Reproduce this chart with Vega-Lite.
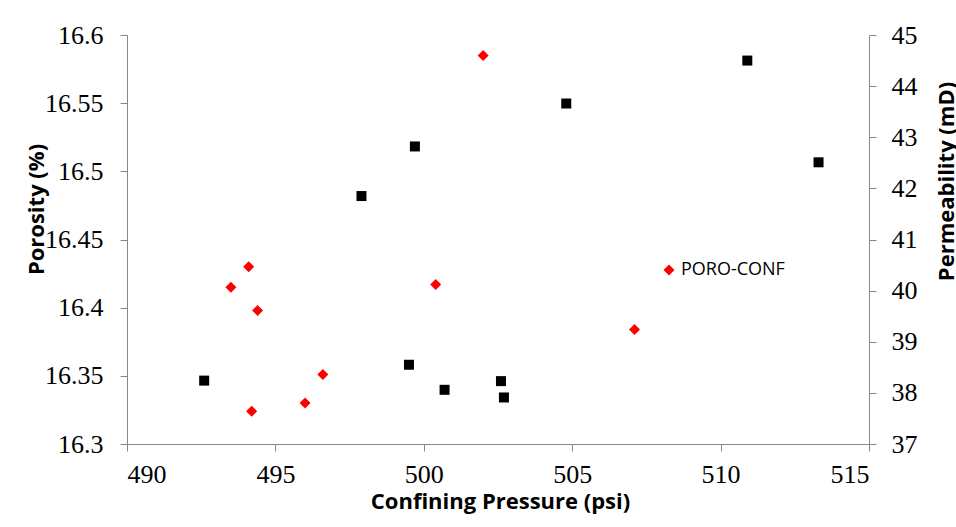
{
  "$schema": "https://vega.github.io/schema/vega-lite/v6.json",
  "width": 742,
  "height": 409,
  "autosize": {"type": "none"},
  "padding": {"left": 127, "top": 35, "right": 87, "bottom": 83},
  "background": "white",
  "config": {
    "view": {"stroke": null},
    "axis": {
      "grid": false,
      "domainColor": "#878787",
      "tickColor": "#878787",
      "tickSize": 7,
      "labelFont": "Liberation Serif",
      "labelFontSize": 26,
      "labelColor": "#000000",
      "titleFont": "Open Sans",
      "titleFontWeight": "bold",
      "titleFontSize": 22,
      "titleColor": "#000000"
    }
  },
  "datasets": {
    "poro": [
      {"pressure": 502.0, "porosity": 16.585, "series": "PORO-CONF"},
      {"pressure": 494.1, "porosity": 16.430, "series": "PORO-CONF"},
      {"pressure": 493.5, "porosity": 16.415, "series": "PORO-CONF"},
      {"pressure": 494.4, "porosity": 16.398, "series": "PORO-CONF"},
      {"pressure": 500.4, "porosity": 16.417, "series": "PORO-CONF"},
      {"pressure": 496.6, "porosity": 16.351, "series": "PORO-CONF"},
      {"pressure": 496.0, "porosity": 16.330, "series": "PORO-CONF"},
      {"pressure": 494.2, "porosity": 16.324, "series": "PORO-CONF"},
      {"pressure": 507.1, "porosity": 16.384, "series": "PORO-CONF"}
    ],
    "perm": [
      {"pressure": 492.6, "permeability": 38.24},
      {"pressure": 499.5, "permeability": 38.55},
      {"pressure": 500.7, "permeability": 38.06},
      {"pressure": 502.6, "permeability": 38.23},
      {"pressure": 502.7, "permeability": 37.91},
      {"pressure": 497.9, "permeability": 41.85},
      {"pressure": 499.7, "permeability": 42.82},
      {"pressure": 504.8, "permeability": 43.66},
      {"pressure": 510.9, "permeability": 44.50},
      {"pressure": 513.3, "permeability": 42.51}
    ]
  },
  "layer": [
    {
      "data": {"name": "poro"},
      "mark": {"type": "point", "shape": "diamond", "filled": true, "size": 121, "opacity": 1, "strokeWidth": 0},
      "encoding": {
        "x": {
          "field": "pressure", "type": "quantitative",
          "scale": {"domain": [490, 515], "nice": false, "zero": false},
          "axis": {
            "values": [490, 495, 500, 505, 510, 515],
            "title": "Confining Pressure (psi)",
            "labelPadding": 10,
            "titleX": 373, "titleY": 64, "titleAlign": "center", "titleBaseline": "alphabetic"
          }
        },
        "y": {
          "field": "porosity", "type": "quantitative",
          "scale": {"domain": [16.3, 16.6], "nice": false, "zero": false},
          "axis": {
            "orient": "left",
            "values": [16.3, 16.35, 16.4, 16.45, 16.5, 16.55, 16.6],
            "format": ".4~g",
            "labelPadding": 17,
            "title": "Porosity (%)",
            "titleAngle": 270,
            "titleX": -84, "titleY": 174, "titleAlign": "center", "titleBaseline": "alphabetic"
          }
        },
        "color": {
          "field": "series", "type": "nominal",
          "scale": {"domain": ["PORO-CONF"], "range": ["#ff0000"]},
          "legend": {
            "title": null,
            "orient": "none",
            "legendX": 533,
            "legendY": 226,
            "padding": 0,
            "symbolType": "diamond",
            "symbolSize": 121,
            "symbolStrokeWidth": 0,
            "labelFont": "Open Sans",
            "labelFontSize": 18,
            "labelColor": "#000000",
            "labelOffset": 3
          }
        }
      }
    },
    {
      "data": {"name": "perm"},
      "mark": {"type": "point", "shape": "square", "filled": true, "size": 100, "opacity": 1, "color": "#000000", "strokeWidth": 0},
      "encoding": {
        "x": {"field": "pressure", "type": "quantitative"},
        "y": {
          "field": "permeability", "type": "quantitative",
          "scale": {"domain": [37, 45], "nice": false, "zero": false},
          "axis": {
            "orient": "right",
            "values": [37, 38, 39, 40, 41, 42, 43, 44, 45],
            "labelPadding": 15,
            "title": "Permeability (mD)",
            "titleAngle": 270,
            "titleX": 84, "titleY": 146, "titleAlign": "center", "titleBaseline": "alphabetic"
          }
        }
      }
    }
  ],
  "resolve": {"scale": {"y": "independent"}}
}
